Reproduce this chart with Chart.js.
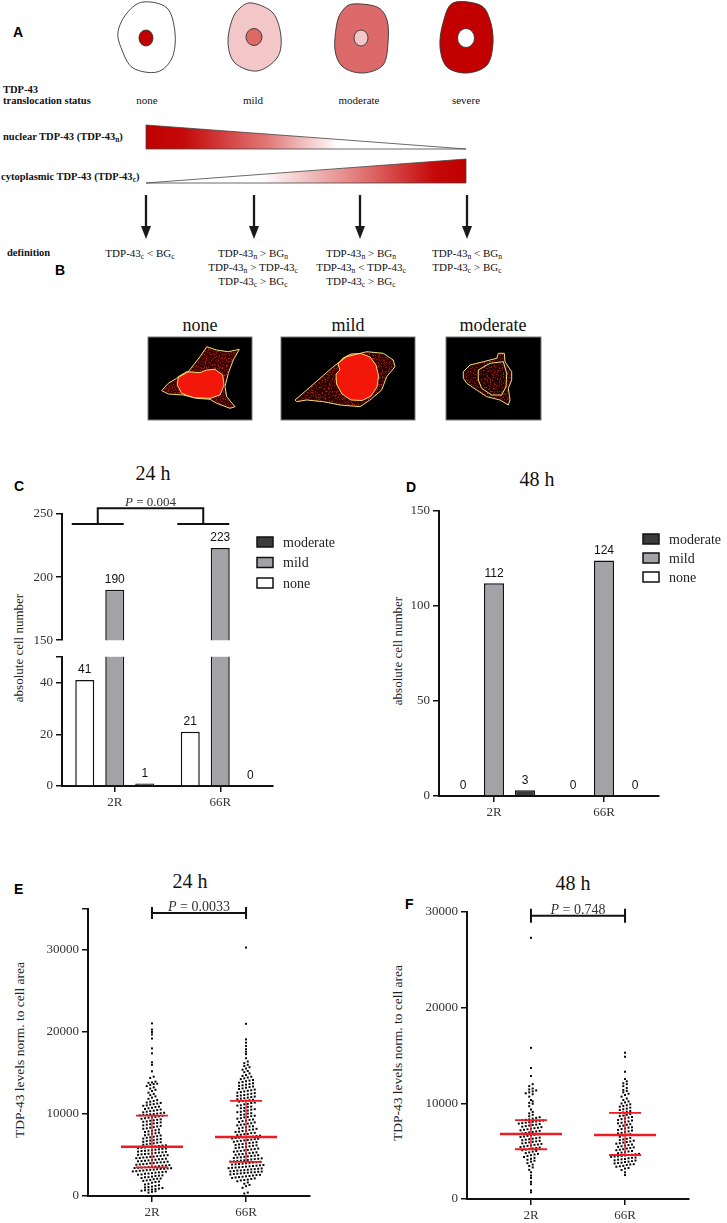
<!DOCTYPE html>
<html>
<head>
<meta charset="utf-8">
<title>TDP-43 translocation</title>
<script src="https://cdn.jsdelivr.net/npm/chart.js@4.4.1/dist/chart.umd.min.js"></script>
<style>
html, body { margin: 0; padding: 0; background: #fff; }
#page { position: relative; width: 727px; height: 1223px; overflow: hidden; font-family: "Liberation Serif", "Times New Roman", serif; color: #111; }
#page canvas, #page svg { position: absolute; }
.t { position: absolute; white-space: nowrap; line-height: 1; }
.c { transform: translate(-50%, -50%); text-align: center; }
.l { transform: translateY(-50%); }
.r90 { transform: translate(-50%, -50%) rotate(-90deg); }
.letter { font-family: "Liberation Sans", Arial, sans-serif; font-weight: bold; font-size: 14px; color: #000; }
.f11 { font-size: 11px; }
.lab { font-size: 10.5px; font-weight: bold; }
.def { font-size: 11px; line-height: 14px; }
.ttl { font-size: 20px; }
.pb { font-size: 18px; }
.yt { font-size: 13px; color: #222; }
sub { font-size: 70%; line-height: 0; vertical-align: -0.3em; }
</style>
</head>
<body>
<div id="page">
  <svg id="art" width="727" height="430" style="left:0;top:0">
    <defs>
      <linearGradient id="gN" gradientUnits="userSpaceOnUse" x1="146" y1="0" x2="466" y2="0">
        <stop offset="0" stop-color="#c00000"/>
        <stop offset="0.12" stop-color="#c50a0a"/>
        <stop offset="0.38" stop-color="#e27878"/>
        <stop offset="0.6" stop-color="#ffffff"/>
        <stop offset="1" stop-color="#ffffff"/>
      </linearGradient>
      <linearGradient id="gC" gradientUnits="userSpaceOnUse" x1="146" y1="0" x2="466" y2="0">
        <stop offset="0" stop-color="#ffffff"/>
        <stop offset="0.36" stop-color="#ffffff"/>
        <stop offset="0.65" stop-color="#e48080"/>
        <stop offset="0.9" stop-color="#c60808"/>
        <stop offset="1" stop-color="#c00000"/>
      </linearGradient>
      <filter id="speck">
        <feTurbulence type="fractalNoise" baseFrequency="0.7" numOctaves="2" seed="7" result="noise"/>
        <feColorMatrix in="noise" type="matrix" values="0 0 0 0 0.62  0 0 0 0 0.03  0 0 0 0 0.01  3.2 0 0 0 -1.75" result="red"/>
        <feComposite in="red" in2="SourceGraphic" operator="in" result="spots"/>
        <feMerge><feMergeNode in="SourceGraphic"/><feMergeNode in="spots"/></feMerge>
      </filter>
    </defs>
    <g id="cells"></g>
    <polygon points="146,125 466,149 146,149" fill="url(#gN)" stroke="#444" stroke-width="0.8"/>
    <polygon points="146,183 466,159 466,183" fill="url(#gC)" stroke="#444" stroke-width="0.8"/>
    <g id="arrows"></g>
    <g id="micro"></g>
  </svg>

  <!-- panel A -->
  <div class="t l letter" style="left:13px;top:32px">A</div>
  <div class="t l lab" style="left:3px;top:90px">TDP-43</div>
  <div class="t l lab" style="left:3px;top:101px">translocation status</div>
  <div class="t c f11" style="left:147px;top:100px">none</div>
  <div class="t c f11" style="left:253px;top:100px">mild</div>
  <div class="t c f11" style="left:359px;top:100px">moderate</div>
  <div class="t c f11" style="left:466px;top:100px">severe</div>
  <div class="t l lab" style="left:3px;top:137px">nuclear TDP-43 (TDP-43<sub>n</sub>)</div>
  <div class="t l lab" style="left:1px;top:177px">cytoplasmic TDP-43 (TDP-43<sub>c</sub>)</div>
  <div class="t l lab" style="left:7px;top:253px">definition</div>
  <div class="t c def" style="left:140px;top:253px">TDP-43<sub>c</sub> &lt; BG<sub>c</sub></div>
  <div class="t c def" style="left:253px;top:267px">TDP-43<sub>n</sub> &gt; BG<sub>n</sub><br>TDP-43<sub>n</sub> &gt; TDP-43<sub>c</sub><br>TDP-43<sub>c</sub> &gt; BG<sub>c</sub></div>
  <div class="t c def" style="left:361px;top:267px">TDP-43<sub>n</sub> &gt; BG<sub>n</sub><br>TDP-43<sub>n</sub> &lt; TDP-43<sub>c</sub><br>TDP-43<sub>c</sub> &gt; BG<sub>c</sub></div>
  <div class="t c def" style="left:467px;top:260px">TDP-43<sub>n</sub> &lt; BG<sub>n</sub><br>TDP-43<sub>c</sub> &gt; BG<sub>c</sub></div>

  <!-- panel B -->
  <div class="t l letter" style="left:55px;top:270px">B</div>
  <div class="t c pb" style="left:200px;top:325px">none</div>
  <div class="t c pb" style="left:348px;top:325px">mild</div>
  <div class="t c pb" style="left:493px;top:325px">moderate</div>

  <!-- panel C / D -->
  <div class="t l letter" style="left:14px;top:486px">C</div>
  <div class="t c ttl" style="left:153px;top:473px">24 h</div>
  <div class="t r90 yt" style="left:18px;top:648px">absolute cell number</div>
  <div class="t l letter" style="left:406px;top:487px">D</div>
  <div class="t c ttl" style="left:537px;top:479px">48 h</div>
  <div class="t r90 yt" style="left:397px;top:651px">absolute cell number</div>

  <!-- panel E / F -->
  <div class="t l letter" style="left:14px;top:889px">E</div>
  <div class="t c ttl" style="left:190px;top:881px">24 h</div>
  <div class="t r90 yt" style="left:20px;top:1050px;font-size:13.5px">TDP-43 levels norm. to cell area</div>
  <div class="t l letter" style="left:405px;top:904px">F</div>
  <div class="t c ttl" style="left:573px;top:883px">48 h</div>
  <div class="t r90 yt" style="left:398px;top:1053px;font-size:13.5px">TDP-43 levels norm. to cell area</div>

  <canvas id="cUp"></canvas>
  <canvas id="cLow"></canvas>
  <canvas id="d48"></canvas>
  <canvas id="e24"></canvas>
  <canvas id="f48"></canvas>
</div>

<script>
// ---- data ----
const groups = ['2R', '66R'];
const statuses = ['none', 'mild', 'moderate'];
const statusColors = ['#ffffff', '#a3a3a7', '#3b3b3b'];

const none24 = [41, 21];
const mild24 = [190, 223];
const moderate24 = [1, 0];
const none48 = [0, 0];
const mild48 = [112, 124];
const moderate48 = [3, 0];

const ticksCUpper = [150, 200, 250];
const ticksCLower = [0, 20, 40, 50];
const ticksD = [0, 50, 100, 150];
const ticksE = [0, 10000, 20000, 30000, 35000];
const ticksF = [0, 10000, 20000, 30000];

const pCounts24 = '0.004';
const pLevels24 = '0.0033';
const pLevels48 = '0.748';

// TDP-43 levels, single cells
const levels24_2R = [
  420, 510, 580, 640, 700, 760, 790, 850, 900, 980, 1050, 1100, 1150, 1230, 1320, 1400, 1480, 1620, 1700, 1760,
  1850, 1900, 1960, 2050, 2100, 2130, 2200, 2280, 2300, 2360, 2450, 2480, 2520, 2600, 2630, 2700, 2740, 2790, 2850, 2880,
  2920, 2960, 3000, 3030, 3080, 3100, 3150, 3190, 3220, 3260, 3300, 3320, 3360, 3390, 3410, 3440, 3460, 3490,
  3530, 3560, 3600, 3640, 3700, 3720, 3760, 3810, 3850, 3880, 3930, 3990, 4010, 4060, 4100, 4120, 4180, 4230, 4260, 4300,
  4340, 4390, 4420, 4480, 4500, 4550, 4610, 4640, 4690, 4720, 4770, 4800, 4860, 4900, 4950, 4980, 5020, 5080, 5110, 5150,
  5200, 5260, 5300, 5330, 5390, 5420, 5480, 5510, 5560, 5600, 5650, 5700, 5740, 5790, 5830, 5880, 5920, 5970,
  6020, 6040, 6100, 6150, 6180, 6250, 6300, 6380, 6420, 6500, 6560, 6610, 6700, 6760, 6800, 6890, 6950, 7000, 7100, 7150,
  7230, 7300, 7380, 7420, 7500, 7600, 7650, 7720, 7800, 7880, 7950, 8020, 8100, 8200, 8250, 8330, 8400, 8480, 8550, 8620,
  8700, 8760, 8850, 8900, 8980, 9050, 9100, 9180, 9230, 9300, 9350, 9420, 9480, 9550, 9600, 9650, 9720, 9780,
  9830, 9870, 9900, 9960, 10000, 10050, 10100, 10150, 10200, 10280, 10350, 10400, 10480, 10550, 10600, 10700, 10760, 10850, 10900, 11000,
  11050, 11150, 11200, 11280, 11350, 11400, 11500, 11600, 11700, 11850, 12000, 12150, 12300, 12450, 12600, 12800, 12950, 13100, 13250, 13400,
  13550, 13650, 13700, 13800, 13850, 13950, 14400, 14550, 15200, 16000, 16300, 17400, 18000, 19200, 19700, 20000, 20300, 21050
];
const levels24_66R = [
  300, 420, 1000, 1200, 1350, 1500, 1650, 1800, 1900, 1950, 2000, 2080, 2150, 2200, 2260, 2300, 2350, 2400, 2440, 2500,
  2550, 2580, 2620, 2680, 2720, 2760, 2800, 2840, 2880, 2900, 2950, 2980, 3000, 3050, 3100, 3120, 3150, 3200, 3250, 3280,
  3320, 3360, 3400, 3430, 3470, 3500, 3540, 3580, 3620, 3660, 3700, 3740, 3780, 3830, 3870, 3900, 3950, 3990, 4040, 4080, 4120,
  4170, 4200, 4230, 4280, 4320, 4350, 4400, 4450, 4500, 4540, 4590, 4630, 4680, 4720, 4780, 4830, 4870, 4920, 4980, 5020,
  5080, 5120, 5180, 5230, 5280, 5330, 5400, 5450, 5500, 5560, 5620, 5680, 5730, 5790, 5840, 5900, 5960, 6000, 6060, 6120,
  6180, 6230, 6290, 6340, 6400, 6460, 6510, 6570, 6620, 6680, 6730, 6780, 6830, 6880, 6930, 6980, 7020, 7070, 7110, 7150, 7180,
  7220, 7250, 7310, 7350, 7430, 7470, 7540, 7580, 7670, 7700, 7800, 7840, 7930, 7960, 8060, 8100, 8190, 8240, 8330, 8380,
  8470, 8520, 8610, 8690, 8740, 8830, 8880, 8980, 9030, 9130, 9190, 9280, 9340, 9430, 9490, 9590, 9640, 9740, 9790, 9890,
  9950, 10050, 10100, 10220, 10270, 10380, 10420, 10530, 10590, 10700, 10740, 10860, 10910, 11020, 11060, 11180, 11230, 11340, 11390, 11500, 11570,
  11620, 11680, 11750, 11800, 11870, 11920, 12000, 12060, 12130, 12200, 12260, 12320, 12400, 12470, 12550, 12600, 12680, 12750, 12830, 12900,
  12980, 13050, 13120, 13200, 13280, 13350, 13430, 13500, 13580, 13650, 13750, 13820, 13900, 14000, 14080, 14150, 14250, 14350, 14450, 14550,
  14650, 14750, 14950, 15100, 15250, 15400, 15550, 15700, 15850, 16000, 16200, 16400, 16800, 17300, 17600, 17900, 18300, 18700, 19100, 21000, 30300
];
const levels48_2R = [
  700, 900, 1550, 1800, 2200, 2450, 2800, 3050, 3300, 3450, 3600, 3750, 3900, 4000, 4100, 4200, 4300, 4400, 4500, 4580,
  4650, 4720, 4800, 4870, 4950, 5020, 5100, 5170,
  5230, 5280, 5330, 5380, 5430, 5480, 5550, 5600, 5660, 5700, 5760, 5820, 5870, 5920, 5980, 6030, 6080, 6140, 6200, 6250,
  6300, 6360, 6420, 6480, 6530, 6600, 6650, 6710, 6760, 6800,
  6850, 6900, 6960, 7010, 7060, 7120, 7180, 7230, 7290, 7340, 7400, 7450, 7510, 7560, 7620, 7680, 7730, 7780, 7830, 7880,
  7930, 7980, 8020, 8070, 8110, 8160, 8200, 8240,
  8280, 8320, 8400, 8480, 8550, 8650, 8800, 8950, 9100, 9350, 9700, 9950, 10050, 10200, 10350, 10700, 10950, 11050, 11150, 11250,
  11350, 11450, 11550, 11800, 12000, 12850, 13700, 15800, 27300
];
const levels48_66R = [
  2500, 2790, 3030, 3180, 3240, 3370, 3420, 3460, 3560, 3610, 3640, 3720, 3760, 3790, 3870, 3900, 3960, 4020, 4040, 4110,
  4150, 4180, 4260, 4300, 4330, 4410, 4440, 4460, 4510, 4550, 4590,
  4620, 4680, 4720, 4790, 4850, 4900, 4970, 5020, 5100, 5150, 5210, 5280, 5340, 5400, 5450, 5520, 5580, 5640, 5700, 5780,
  5830, 5900, 5960, 6020, 6100, 6160, 6230, 6300, 6380, 6500, 6650,
  6720, 6770, 6860, 6920, 7010, 7070, 7160, 7210, 7310, 7370, 7460, 7510, 7610, 7670, 7760, 7820, 7910, 7970, 8060, 8110,
  8210, 8260, 8350, 8410, 8510, 8570, 8660, 8720, 8810, 8870, 8970,
  9050, 9130, 9200, 9300, 9380, 9450, 9550, 9650, 9720, 9800, 9900, 9980, 10100, 10200, 10350, 10500, 10700, 10870, 11000, 11150,
  11300, 11400, 11600, 11800, 12000, 12100, 12300, 12540, 13300, 14870, 15290
];
const median24 = [6000, 7200];
const q1_24 = [3500, 4150];
const q3_24 = [9800, 11600];
const median48 = [6800, 6700];
const q1_48 = [5200, 4600];
const q3_48 = [8250, 9000];

// ---- schematic (panel A / B) ----
function smoothPath(pts) {
  const n = pts.length;
  let d = 'M' + pts[0][0] + ',' + pts[0][1];
  for (let i = 0; i < n; i++) {
    const p0 = pts[(i - 1 + n) % n], p1 = pts[i], p2 = pts[(i + 1) % n], p3 = pts[(i + 2) % n];
    const c1 = [p1[0] + (p2[0] - p0[0]) / 6, p1[1] + (p2[1] - p0[1]) / 6];
    const c2 = [p2[0] - (p3[0] - p1[0]) / 6, p2[1] - (p3[1] - p1[1]) / 6];
    d += 'C' + c1.join(',') + ' ' + c2.join(',') + ' ' + p2.join(',');
  }
  return d + 'Z';
}

const cellShapes = [
  {cx: 146, cy: 38, fill: '#ffffff', nuc: '#c00000', rx: 7, ry: 8, pts: [[-3,-36],[21,-30],[29,-5],[26,20],[11,34],[-13,30],[-24,12],[-28,-6],[-19,-25]]},
  {cx: 254, cy: 37, fill: '#f3c7c7', nuc: '#dc6868', rx: 8, ry: 8.5, pts: [[-2,-34],[19,-24],[27,0],[23,21],[3,34],[-19,26],[-26,6],[-22,-17],[-14,-29]]},
  {cx: 361, cy: 38, fill: '#dd6a6a', nuc: '#f3c7c7', rx: 7, ry: 8, pts: [[-8,-34],[16,-31],[26,-18],[27,5],[22,27],[2,35],[-18,29],[-26,12],[-24,-15],[-18,-28]]},
  {cx: 466, cy: 38, fill: '#c30000', nuc: '#ffffff', rx: 8.5, ry: 9.5, pts: [[-13,-35],[14,-33],[24,-18],[27,5],[21,27],[1,35],[-19,29],[-26,9],[-23,-15]]}
];
let svgCells = '';
cellShapes.forEach(c => {
  const pts = c.pts.map(p => [c.cx + p[0], c.cy + p[1]]);
  svgCells += '<path d="' + smoothPath(pts) + '" fill="' + c.fill + '" stroke="#333" stroke-width="0.9"/>';
  svgCells += '<ellipse cx="' + c.cx + '" cy="' + c.cy + '" rx="' + c.rx + '" ry="' + c.ry + '" fill="' + c.nuc + '" stroke="#333" stroke-width="0.9"/>';
});
document.getElementById('cells').innerHTML = svgCells;

let svgArrows = '';
[146, 254, 360, 467].forEach(x => {
  svgArrows += '<line x1="' + x + '" y1="195" x2="' + x + '" y2="229" stroke="#1a1a1a" stroke-width="2.3"/>';
  svgArrows += '<polygon points="' + (x - 5) + ',226 ' + (x + 5) + ',226 ' + x + ',239" fill="#1a1a1a"/>';
});
document.getElementById('arrows').innerHTML = svgArrows;

const microCells = [
  {x: 148, w: 104, cyto: '#3e0503', nucFill: '#f2160b',
   cell: [[13.7,53.7],[20.3,46.3],[28.7,41.3],[40.3,34.7],[52,19.7],[58.7,9.7],[68.7,13],[80.3,14.7],[91.3,12.3],[85.3,23],[80.3,36.3],[77,49.7],[78.7,59.7],[87,69.7],[82,71.3],[68.7,66.3],[62,62.3],[48.7,61.3],[35.3,58],[20.3,57]],
   nuc: [[30.3,39.7],[38.7,34.7],[52,35.7],[58.7,33],[67,32.3],[74.7,38],[76,48],[72,58],[62,61.3],[45.3,60.7],[33.7,56.3],[29.3,48]]},
  {x: 281, w: 134, cyto: '#2e0402', nucFill: '#f2160b',
   cell: [[14,63],[25.7,53],[39,41.3],[52.3,29.7],[65.7,19.7],[85.7,14.7],[102.3,16.3],[112.3,23],[114,29.7],[105.7,39.7],[100.7,53],[89,63],[79,69.7],[59,68],[42.3,64.7],[25.7,63],[15.7,64.7]],
   nuc: [[57,27],[62,21],[70,17],[80,16.5],[89,20],[95,28],[97.5,39],[96,50],[90,59],[81,63.5],[70,63],[61,57],[55.5,47],[55,37],[59,33]]},
  {x: 446, w: 95, cyto: '#2a0302', nucFill: '#220201', dark: true,
   cell: [[17.3,34.7],[24,28],[37.3,24.7],[50.7,21.3],[52.3,16.3],[58.3,16.3],[59,24.7],[65.7,34.7],[65.7,43],[62.3,51.3],[64,63],[62.3,68],[54,63],[40.7,59.7],[30.7,53],[20.7,46.3],[17.3,41.3]],
   nuc: [[32.3,33],[44,26.3],[57.3,24.7],[60.7,36.3],[60,49.7],[55.7,58],[45.7,58],[35.7,51.3],[32.3,43]]}
];
let svgMicro = '';
microCells.forEach(m => {
  const cp = m.cell.map(p => p.join(',')).join(' ');
  const np = m.nuc.map(p => p.join(',')).join(' ');
  svgMicro += '<g transform="translate(' + m.x + ',337)">';
  svgMicro += '<rect x="0" y="0" width="' + m.w + '" height="83" fill="#000" stroke="#7a7a7a" stroke-width="1"/>';
  svgMicro += '<polygon points="' + cp + '" fill="' + m.cyto + '" filter="url(#speck)"/>';
  svgMicro += '<polygon points="' + np + '" fill="' + m.nucFill + '"' + (m.dark ? ' filter="url(#speck)"' : '') + '/>';
  svgMicro += '<polygon points="' + cp + '" fill="none" stroke="#e8df76" stroke-width="1"/>';
  svgMicro += '<polygon points="' + np + '" fill="none" stroke="#e8df76" stroke-width="1"/>';
  svgMicro += '</g>';
});
document.getElementById('micro').innerHTML = svgMicro;

// ---- charts ----
const serif = 'Liberation Serif';

function place(id, area, yW, xH, pad) {
  const cv = document.getElementById(id);
  const w = yW + (area.r - area.l) + pad.r;
  const h = pad.t + (area.b - area.t) + xH + pad.b;
  cv.width = w; cv.height = h;
  cv.style.width = w + 'px'; cv.style.height = h + 'px';
  cv.style.left = (area.l - yW) + 'px';
  cv.style.top = (area.t - pad.t) + 'px';
  return cv;
}

function yAxis(ticks, width, label) {
  return {
    min: ticks[0], max: ticks[ticks.length - 1],
    afterBuildTicks: s => { s.ticks = ticks.map(v => ({value: v})); },
    afterFit: s => { s.width = width; },
    ticks: {font: {family: serif, size: 13}, color: '#333', padding: 3, callback: label || (v => String(v))},
    grid: {drawOnChartArea: false, tickLength: 6, color: '#111', lineWidth: 1.5},
    border: {color: '#111', width: 2}
  };
}

function xCategory(height, show) {
  return {
    display: show,
    afterFit: s => { s.height = height; },
    ticks: {font: {family: serif, size: 13}, color: '#333', padding: 3},
    grid: {offset: false, drawOnChartArea: false, tickLength: 6, color: '#111', lineWidth: 1.5},
    border: {color: '#111', width: 2}
  };
}

function barSets(noneV, mildV, modV, catPct, barPct) {
  return [noneV, mildV, modV].map((d, i) => ({
    label: statuses[i], data: d,
    backgroundColor: statusColors[i], borderColor: '#111', borderWidth: 1.5,
    categoryPercentage: catPct, barPercentage: barPct,
    clip: {left: 4, top: 0, right: 4, bottom: 0}
  }));
}

function drawP(ctx, cx, baseY, value, size) {
  const it = 'italic ' + size + 'px "' + serif + '"';
  const rg = size + 'px "' + serif + '"';
  ctx.font = it; const wP = ctx.measureText('P').width;
  const rest = ' = ' + value;
  ctx.font = rg; const wR = ctx.measureText(rest).width;
  const x0 = cx - (wP + wR) / 2;
  ctx.fillStyle = '#333'; ctx.textAlign = 'left'; ctx.textBaseline = 'alphabetic';
  ctx.font = it; ctx.fillText('P', x0, baseY);
  ctx.font = rg; ctx.fillText(rest, x0 + wP, baseY);
}

const barLabels = {
  id: 'barLabels',
  afterDatasetsDraw(chart) {
    const {ctx, scales: {y}} = chart;
    ctx.save();
    ctx.font = '12px "Liberation Sans"';
    ctx.fillStyle = '#111'; ctx.textAlign = 'center'; ctx.textBaseline = 'bottom';
    chart.data.datasets.forEach((ds, i) => {
      chart.getDatasetMeta(i).data.forEach((bar, j) => {
        const v = ds.data[j];
        if (v < y.min || v > y.max) return;
        ctx.fillText(String(v), bar.x, bar.y - 4);
      });
    });
    ctx.restore();
  }
};

const boxLegend = {
  id: 'boxLegend',
  afterDraw(chart, args, o) {
    if (!o || o.dx === undefined) return;
    const {ctx, chartArea} = chart;
    const sets = chart.data.datasets.slice().reverse();
    ctx.save();
    ctx.font = '14px "' + serif + '"'; ctx.textBaseline = 'middle'; ctx.textAlign = 'left';
    sets.forEach((ds, k) => {
      const x = chartArea.right + o.dx, y = chartArea.top + o.dy + k * o.gap;
      ctx.fillStyle = ds.backgroundColor; ctx.fillRect(x, y - 5, 16, 10);
      ctx.strokeStyle = '#111'; ctx.lineWidth = 1.5; ctx.strokeRect(x, y - 5, 16, 10);
      ctx.fillStyle = '#222'; ctx.fillText(ds.label, x + 26, y + 1);
    });
    ctx.restore();
  }
};

const groupBracket = {
  id: 'groupBracket',
  afterDraw(chart, args, o) {
    const {ctx, scales: {y}} = chart;
    const noneBars = chart.getDatasetMeta(0).data, mildBars = chart.getDatasetMeta(1).data;
    const yLow = y.getPixelForValue(o.low), yHigh = y.getPixelForValue(o.high);
    const mids = [];
    ctx.save();
    ctx.strokeStyle = '#111'; ctx.lineWidth = 2; ctx.beginPath();
    noneBars.forEach((nb, i) => {
      const a = nb.x - 13, b = mildBars[i].x + 9;
      ctx.moveTo(a, yLow); ctx.lineTo(b, yLow);
      mids.push((a + b) / 2);
    });
    ctx.moveTo(mids[0], yLow); ctx.lineTo(mids[0], yHigh); ctx.lineTo(mids[1], yHigh); ctx.lineTo(mids[1], yLow);
    ctx.stroke();
    drawP(ctx, (mids[0] + mids[1]) / 2, yHigh - 2, o.p, 13);
    ctx.restore();
  }
};

const pBracket = {
  id: 'pBracket',
  afterDraw(chart, args, o) {
    const {ctx, scales: {x, y}} = chart;
    const x1 = x.getPixelForValue(1), x2 = x.getPixelForValue(2), py = y.getPixelForValue(o.at);
    ctx.save();
    ctx.strokeStyle = '#111'; ctx.lineWidth = 2; ctx.beginPath();
    ctx.moveTo(x1, py); ctx.lineTo(x2, py);
    ctx.moveTo(x1, py - o.tick); ctx.lineTo(x1, py + o.tick);
    ctx.moveTo(x2, py - o.tick); ctx.lineTo(x2, py + o.tick);
    ctx.stroke();
    drawP(ctx, (x1 + x2) / 2, py - 2, o.p, 14);
    ctx.restore();
  }
};

const iqrLines = {
  id: 'iqrLines',
  afterDatasetsDraw(chart, args, o) {
    const {ctx, scales: {x, y}} = chart;
    ctx.save();
    ctx.strokeStyle = '#ec1c24';
    o.median.forEach((m, i) => {
      const px = x.getPixelForValue(i + 1);
      ctx.lineWidth = 1.3;
      ctx.beginPath();
      ctx.moveTo(px, y.getPixelForValue(o.q1[i])); ctx.lineTo(px, y.getPixelForValue(o.q3[i]));
      ctx.stroke();
      ctx.lineWidth = 1.8;
      ctx.beginPath();
      [o.q1[i], o.q3[i]].forEach(q => {
        const py = y.getPixelForValue(q);
        ctx.moveTo(px - 16, py); ctx.lineTo(px + 16, py);
      });
      ctx.stroke();
      ctx.lineWidth = 2.5;
      ctx.beginPath();
      const pm = y.getPixelForValue(m);
      ctx.moveTo(px - 31, pm); ctx.lineTo(px + 31, pm);
      ctx.stroke();
    });
    ctx.restore();
  }
};

// beeswarm layout: rows by value, centred spread in x
function swarm(values, center, bin, step) {
  const rows = new Map();
  values.slice().sort((a, b) => a - b).forEach(v => {
    const k = Math.round(v / bin);
    if (!rows.has(k)) rows.set(k, []);
    rows.get(k).push(v);
  });
  const pts = [];
  rows.forEach(row => {
    row.forEach((v, i) => pts.push({x: center + (i - (row.length - 1) / 2) * step, y: v}));
  });
  return pts;
}

const base = {
  responsive: false, animation: false, events: [],
  plugins: {legend: {display: false}, tooltip: {enabled: false}}
};

// C, upper part of broken axis
const aCU = {l: 62, t: 514, r: 273, b: 643};
const padCU = {t: 30, r: 90, b: 8};
place('cUp', aCU, 45, 0, padCU);
new Chart(document.getElementById('cUp'), {
  type: 'bar',
  data: {labels: groups, datasets: barSets(none24, mild24, moderate24, 0.853, 0.633)},
  options: Object.assign({}, base, {
    layout: {padding: {left: 0, top: padCU.t, right: padCU.r, bottom: padCU.b}},
    plugins: Object.assign({}, base.plugins, {
      boxLegend: {dx: -16, dy: 28, gap: 20.5},
      groupBracket: {low: 242, high: 254.5, p: pCounts24}
    }),
    scales: {x: xCategory(0, false), y: yAxis(ticksCUpper, 45)}
  }),
  plugins: [barLabels, boxLegend, groupBracket]
});

// C, lower part of broken axis
const aCL = {l: 62, t: 654, r: 273, b: 786};
const padCL = {t: 8, r: 10, b: 0};
place('cLow', aCL, 45, 26, padCL);
new Chart(document.getElementById('cLow'), {
  type: 'bar',
  data: {labels: groups, datasets: barSets(none24, mild24, moderate24, 0.853, 0.633)},
  options: Object.assign({}, base, {
    layout: {padding: {left: 0, top: padCL.t, right: padCL.r, bottom: padCL.b}},
    scales: {x: xCategory(26, true), y: yAxis(ticksCLower, 45, v => v === 50 ? '' : String(v))}
  }),
  plugins: [barLabels]
});

// D
const aD = {l: 439, t: 511, r: 659, b: 796};
const padD = {t: 12, r: 68, b: 0};
place('d48', aD, 45, 26, padD);
new Chart(document.getElementById('d48'), {
  type: 'bar',
  data: {labels: groups, datasets: barSets(none48, mild48, moderate48, 0.845, 0.645)},
  options: Object.assign({}, base, {
    layout: {padding: {left: 0, top: padD.t, right: padD.r, bottom: padD.b}},
    plugins: Object.assign({}, base.plugins, {boxLegend: {dx: -16, dy: 28, gap: 19}}),
    scales: {x: xCategory(26, true), y: yAxis(ticksD, 45)}
  }),
  plugins: [barLabels, boxLegend]
});

function dotChart(id, area, xH, yTicks, yLabel, sets, stats, bracket, bin) {
  const pad = {t: 22, r: 10, b: 0};
  place(id, area, 50, xH, pad);
  return new Chart(document.getElementById(id), {
    type: 'scatter',
    data: {datasets: sets.map((vals, i) => ({
      data: swarm(vals, i + 1, bin, 0.037),
      pointStyle: 'rect', pointRadius: 1.4, backgroundColor: '#000', borderColor: '#000', borderWidth: 0
    }))},
    options: Object.assign({}, base, {
      layout: {padding: {left: 0, top: pad.t, right: pad.r, bottom: pad.b}},
      plugins: Object.assign({}, base.plugins, {iqrLines: stats, pBracket: bracket}),
      scales: {
        x: {
          type: 'linear', min: 0.32, max: 2.68,
          afterBuildTicks: s => { s.ticks = [{value: 1}, {value: 2}]; },
          afterFit: s => { s.height = xH; },
          ticks: {font: {family: serif, size: 13}, color: '#333', padding: 3, callback: v => groups[v - 1]},
          grid: {drawOnChartArea: false, tickLength: 6, color: '#111', lineWidth: 1.5},
          border: {color: '#111', width: 2}
        },
        y: yAxis(yTicks, 50, yLabel)
      }
    }),
    plugins: [iqrLines, pBracket]
  });
}

dotChart('e24', {l: 88, t: 909, r: 310, b: 1196}, 27, ticksE, v => v === 35000 ? '' : String(v),
  [levels24_2R, levels24_66R], {median: median24, q1: q1_24, q3: q3_24},
  {at: 34500, p: pLevels24, tick: 6}, 400);

dotChart('f48', {l: 467, t: 912, r: 689, b: 1199}, 24, ticksF, null,
  [levels48_2R, levels48_66R], {median: median48, q1: q1_48, q3: q3_48},
  {at: 29600, p: pLevels48, tick: 7}, 350);
</script>
</body>
</html>
